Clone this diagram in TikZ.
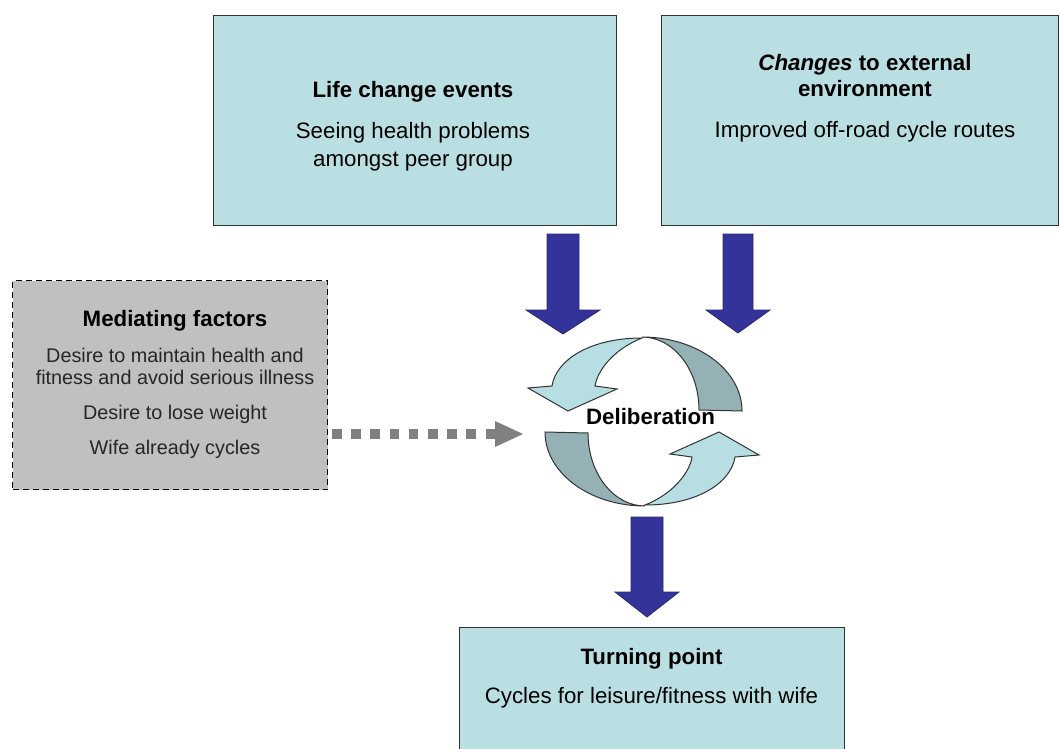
\documentclass[tikz,border=0pt]{standalone}
\usepackage{fontspec}
\setmainfont{Liberation Sans}
\definecolor{boxfill}{RGB}{185,223,227}
\definecolor{boxline}{RGB}{51,51,51}
\definecolor{medfill}{RGB}{192,192,192}
\definecolor{arrowblue}{RGB}{51,51,153}
\definecolor{arrowedge}{RGB}{40,40,120}
\definecolor{ringlight}{RGB}{183,222,226}
\definecolor{ringdark}{RGB}{148,178,181}
\definecolor{dashgray}{RGB}{128,128,128}
\newcommand\downblock[6]{\draw[blockarrow] (#1-#5,-#2) -- (#1+#5,-#2) -- (#1+#5,-#3) -- (#1+#6,-#3) -- (#1,-#4) -- (#1-#6,-#3) -- (#1-#5,-#3) -- cycle;}
\begin{document}
\begin{tikzpicture}[x=1pt,y=1pt,
  infobox/.style={draw=boxline, line width=1.2pt, fill=boxfill, inner sep=0pt, anchor=north west},
  medbox/.style={draw=black, line width=1.2pt, fill=medfill, dash pattern=on 6pt off 4pt, inner sep=0pt, anchor=north west},
  ttl/.style={font=\fontsize{22.3}{26}\selectfont\bfseries, anchor=base, inner sep=0pt},
  body/.style={font=\fontsize{22.3}{26}\selectfont, anchor=base, inner sep=0pt},
  medbody/.style={font=\fontsize{19.8}{23}\selectfont, anchor=base, text=black!85, inner sep=0pt},
  blockarrow/.style={fill=arrowblue, draw=arrowedge, line width=0.8pt},
  ringlightst/.style={fill=ringlight, draw=boxline, line width=1pt},
  ringdarkst/.style={fill=ringdark, draw=boxline, line width=1pt},
  dashline/.style={draw=dashgray, line width=9.5pt, dash pattern=on 9.6pt off 9.6pt},
]
\useasboundingbox (0,0) rectangle (1060,-749);
\fill[white] (0,0) rectangle (1060,-749);

% boxes
\node[infobox, minimum width=403, minimum height=210] (life) at (213,-15) {};
\node[infobox, minimum width=397, minimum height=210] (changes) at (661,-15) {};
\node[medbox, minimum width=315, minimum height=209] (med) at (12,-280) {};
\node[infobox, minimum width=385, minimum height=135] (turn) at (459,-627) {};

% texts
\node[ttl] (lifet) at (413,-98) {Life change events};
\node[body] (lifeb1) at (413,-139) {Seeing health problems};
\node[body] (lifeb2) at (413,-167) {amongst peer group};
\node[ttl] (cht1) at (865,-71) {\textit{Changes} to external};
\node[ttl] (cht2) at (865,-97) {environment};
\node[body] (chb) at (865,-138) {Improved off-road cycle routes};
\node[ttl] (medt) at (175,-326) {Mediating factors};
\node[medbody] (m1) at (175,-362) {Desire to maintain health and};
\node[medbody] (m2) at (175,-384) {fitness and avoid serious illness};
\node[medbody] (m3) at (175,-419) {Desire to lose weight};
\node[medbody] (m4) at (175,-454) {Wife already cycles};
\node[ttl] (tpt) at (651.5,-664) {Turning point};
\node[body] (tpb) at (651.5,-703) {Cycles for leisure/fitness with wife};

% blue block arrows
\downblock{563}{234}{310}{334}{16}{37}
\downblock{738}{234}{310}{333}{15}{32}
\downblock{647}{517}{592}{617}{16}{32}

% dashed arrow from mediating factors
\coordinate (dstart) at (332,-434);
\coordinate (dend) at (495.5,-434);
\coordinate (dtip) at (523,-434);
\draw[dashline] (dstart) -- (dend);
\fill[dashgray] (495,-421) -- (dtip) -- (495,-447) -- cycle;

% circular arrows (deliberation)
% upper dark band
\draw[ringdarkst] (742,-411) arc[start angle=0, end angle=90, x radius=100, y radius=74]
  arc[start angle=90, end angle=0, x radius=57, y radius=73] -- cycle;
% lower dark band
\draw[ringdarkst] (545,-432) arc[start angle=180, end angle=270, x radius=100, y radius=74]
  arc[start angle=270, end angle=180, x radius=57, y radius=73] -- cycle;
% upper light band with head
\draw[ringlightst] (642,-338) .. controls (590,-338) and (556,-360) .. (552,-386)
  -- (528,-388) -- (568,-411) -- (617,-389) -- (595,-386)
  .. controls (597,-372) and (612,-350) .. (642,-338) -- cycle;
% lower light band with head
\draw[ringlightst] (645,-505) .. controls (697,-505) and (731,-483) .. (735,-457)
  -- (759,-455) -- (719,-432) -- (670,-454) -- (692,-457)
  .. controls (690,-471) and (675,-493) .. (645,-505) -- cycle;

\node[ttl] (delib) at (650.5,-424) {Deliberation};
\end{tikzpicture}
\end{document}
